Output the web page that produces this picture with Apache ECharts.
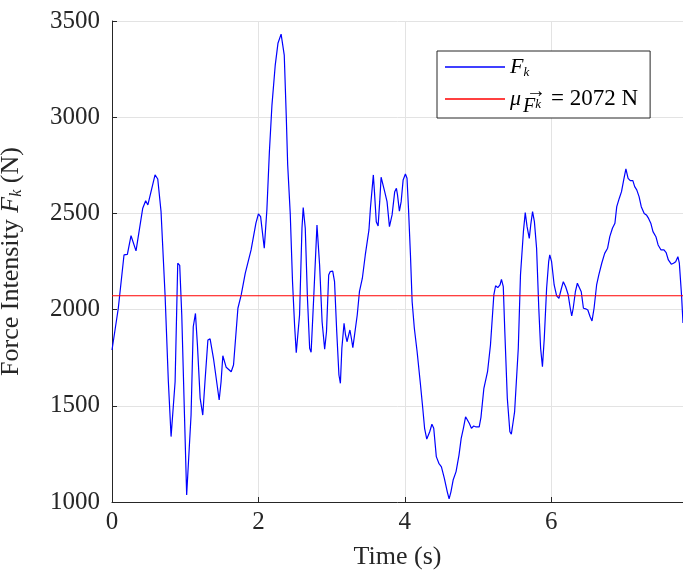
<!DOCTYPE html>
<html><head><meta charset="utf-8">
<script src="https://cdn.jsdelivr.net/npm/echarts@6/dist/echarts.min.js"></script>
<style>html,body{margin:0;padding:0;background:#fff}#c{width:683px;height:578px}</style>
</head><body><div id="c"></div>
<script>
const timeS = [0,0.086,0.164,0.21,0.26,0.328,0.42,0.46,0.49,0.588,0.625,0.67,0.725,0.77,0.807,0.83,0.862,0.898,0.925,0.953,0.99,1.02,1.045,1.08,1.11,1.14,1.167,1.204,1.24,1.27,1.31,1.34,1.386,1.464,1.49,1.514,1.56,1.628,1.66,1.72,1.765,1.82,1.90,1.966,2.00,2.03,2.08,2.116,2.15,2.185,2.23,2.267,2.31,2.335,2.353,2.38,2.40,2.435,2.466,2.494,2.517,2.535,2.562,2.595,2.612,2.64,2.67,2.70,2.72,2.755,2.80,2.81,2.836,2.87,2.905,2.93,2.96,2.98,3.015,3.04,3.07,3.10,3.12,3.14,3.17,3.19,3.21,3.25,3.27,3.29,3.31,3.35,3.38,3.42,3.46,3.51,3.53,3.57,3.585,3.61,3.635,3.657,3.676,3.70,3.725,3.757,3.79,3.826,3.862,3.885,3.90,3.926,3.95,3.977,4.008,4.03,4.05,4.077,4.10,4.13,4.168,4.21,4.245,4.27,4.30,4.34,4.37,4.395,4.43,4.465,4.50,4.54,4.58,4.605,4.63,4.66,4.70,4.74,4.77,4.80,4.83,4.85,4.88,4.91,4.94,4.975,5.016,5.04,5.08,5.13,5.17,5.216,5.24,5.27,5.30,5.32,5.345,5.366,5.40,5.435,5.455,5.48,5.50,5.52,5.55,5.58,5.62,5.645,5.67,5.70,5.72,5.745,5.77,5.80,5.83,5.855,5.88,5.905,5.937,5.965,5.98,6.005,6.04,6.074,6.105,6.14,6.165,6.197,6.23,6.26,6.28,6.30,6.33,6.357,6.38,6.41,6.44,6.47,6.50,6.53,6.557,6.585,6.62,6.65,6.69,6.73,6.77,6.80,6.836,6.87,6.895,6.93,6.96,6.99,7.02,7.05,7.08,7.115,7.14,7.168,7.20,7.23,7.27,7.30,7.33,7.36,7.39,7.43,7.46,7.50,7.54,7.57,7.60,7.64,7.67,7.70,7.73,7.75,7.78,7.80];
const forceN = [1790,2007,2284,2287,2384,2305,2527,2566,2544,2700,2679,2509,2076,1625,1340,1340,1625,2241,2230,1972,1452,1036,1045,1452,1911,1980,1816,1540,1452,1625,1842,1848,1747,1530,1625,1760,1700,1677,1712,2007,2076,2188,2310,2449,2497,2483,2319,2520,2820,3063,3271,3384,3432,3427,3323,3011,2752,2497,2145,1920,1776,1780,1972,2423,2530,2423,2059,1799,1778,2059,2440,2444,2232,1937,1794,1885,2180,2197,2200,2145,1885,1660,1617,1799,1929,1868,1833,1894,1851,1802,1808,1972,2093,2163,2284,2414,2527,2700,2613,2457,2435,2561,2688,2683,2613,2561,2431,2492,2613,2630,2596,2512,2561,2674,2705,2683,2527,2284,2041,1903,1781,1625,1487,1383,1327,1365,1404,1383,1236,1201,1183,1123,1053,1016,1053,1114,1158,1244,1331,1383,1443,1452,1409,1383,1395,1390,1390,1440,1591,1677,1816,2076,2124,2114,2128,2157,2119,1885,1539,1365,1353,1417,1470,1478,1799,2180,2405,2504,2431,2370,2440,2509,2457,2319,2007,1799,1703,1851,2111,2249,2284,2249,2128,2071,2059,2111,2145,2119,2080,2007,1967,2007,2093,2137,2145,2093,2007,2004,1998,1964,1941,2007,2128,2180,2241,2292,2319,2379,2423,2449,2535,2579,2613,2674,2731,2682,2670,2670,2639,2622,2587,2535,2500,2492,2474,2449,2405,2379,2336,2310,2310,2296,2258,2236,2241,2249,2275,2241,2076,1930];
const meanForce = 2072;
const xRange = [0, 7.8];
const yRange = [1000, 3500];
const xStep = 2;
const yStep = 500;
const seriesNames = ['Fk', 'mean'];

const FONT = 'Liberation Serif';
const chart = echarts.init(document.getElementById('c'), null, {renderer: 'canvas'});
const gridColor = '#e3e3e3';
const axisColor = '#262626';

chart.setOption({
  animation: false,
  backgroundColor: '#fff',
  grid: {left: 112, right: 0, top: 21, bottom: 76, containLabel: false, outerBoundsMode: 'none'},
  xAxis: {
    type: 'value', min: xRange[0], max: xRange[1], interval: xStep,
    name: 'Time (s)', nameLocation: 'middle', nameGap: 42,
    nameTextStyle: {fontFamily: FONT, fontSize: 26, color: axisColor},
    axisLine: {show: true, lineStyle: {color: axisColor, width: 1}},
    axisTick: {show: true, inside: true, length: 5, lineStyle: {color: axisColor}},
    axisLabel: {fontFamily: FONT, fontSize: 25, color: axisColor, margin: 8, showMaxLabel: false,
      formatter: v => String(v)},
    splitLine: {show: true, lineStyle: {color: gridColor, width: 1}}
  },
  yAxis: {
    type: 'value', min: yRange[0], max: yRange[1], interval: yStep,
    name: '{t|Force Intensity }{i|F}{s|k}{t| (N)}', nameLocation: 'middle', nameGap: 87, nameRotate: 90,
    nameTextStyle: {fontFamily: FONT, fontSize: 26, color: axisColor,
      rich: {
        t: {fontFamily: FONT, fontSize: 26, color: axisColor},
        i: {fontFamily: FONT, fontSize: 26, fontStyle: 'italic', color: axisColor},
        s: {fontFamily: FONT, fontSize: 16, fontStyle: 'italic', color: axisColor, padding: [12, 0, 0, 0]}
      }},
    axisLine: {show: true, lineStyle: {color: axisColor, width: 1}},
    axisTick: {show: true, inside: true, length: 5, lineStyle: {color: axisColor}},
    axisLabel: {fontFamily: FONT, fontSize: 25, color: axisColor, margin: 12,
      formatter: v => String(v)},
    splitLine: {show: true, lineStyle: {color: gridColor, width: 1}}
  },
  legend: {
    orient: 'vertical', left: 437, top: 51,
    padding: [5, 12, 1, 8], itemGap: 8,
    icon: 'rect', itemWidth: 60, itemHeight: 1.3,
    backgroundColor: '#fff', borderColor: axisColor, borderWidth: 1, borderRadius: 0,
    data: seriesNames,
    formatter: function (n) {
      return n === 'Fk' ? '{i|F}{s|k}' : '{m|μ}{s2|F}{s|k}{t|= 2072 N}';
    },
    textStyle: {fontFamily: FONT, fontSize: 21, color: '#000', lineHeight: 22,
      rich: {
        t: {fontFamily: FONT, fontSize: 23, color: '#000', padding: [0, 0, 0, 10]},
        i: {fontFamily: FONT, fontSize: 22, fontStyle: 'italic', color: '#000'},
        m: {fontFamily: FONT, fontSize: 22, fontStyle: 'italic', color: '#000'},
        s: {fontFamily: FONT, fontSize: 13, fontStyle: 'italic', color: '#000', padding: [12, 0, 0, 0]},
        s2: {fontFamily: FONT, fontSize: 20, fontStyle: 'italic', color: '#000', padding: [16, 0, 0, 2]}
      }}
  },
  graphic: [{
    type: 'text', left: 526, top: 82, silent: true, z: 100,
    style: {text: '→', fontFamily: FONT, fontSize: 20, fill: '#000'}
  }],
  series: [{
    name: seriesNames[0], type: 'line', symbol: 'none', showSymbol: false,
    lineStyle: {color: '#0000ff', width: 1.2}, itemStyle: {color: '#0000ff'},
    data: timeS.map((t, k) => [t, forceN[k]]), z: 3
  }, {
    name: seriesNames[1], type: 'line', symbol: 'none', showSymbol: false,
    lineStyle: {color: '#ff0000', width: 1.2}, itemStyle: {color: '#ff0000'},
    data: [[xRange[0], meanForce], [xRange[1], meanForce]], z: 4
  }]
});
</script>
</body></html>
